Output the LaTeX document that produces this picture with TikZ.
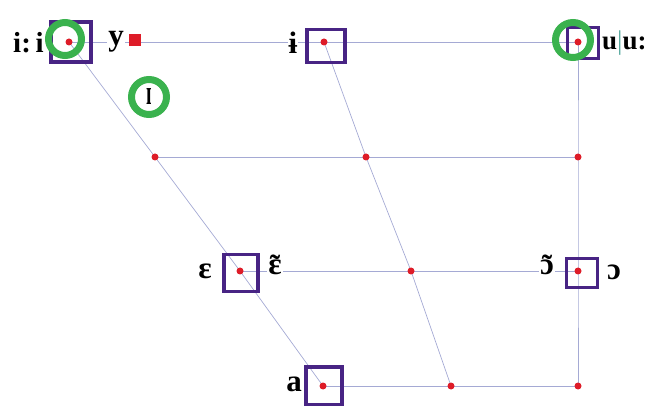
\documentclass[tikz,border=0pt]{standalone}
\usepackage{fontspec}
\setmainfont{Liberation Serif}
\definecolor{gridc}{RGB}{165,170,212}
\definecolor{dotred}{RGB}{222,28,40}
\definecolor{boxpurple}{RGB}{72,36,132}
\definecolor{ringgreen}{RGB}{58,178,78}
\definecolor{barc}{RGB}{90,170,160}
\newcommand\tildeon[1]{\ooalign{#1\cr\hidewidth\raisebox{-0.05em}{˜}\hidewidth\cr}}
\begin{document}
\begin{tikzpicture}[x=1pt,y=-1pt,
  grid/.style={draw=gridc, line width=0.7pt},
  dot/.style={circle, fill=dotred, inner sep=0pt, minimum size=7pt},
  vbox/.style={draw=boxpurple, line width=3.5pt, inner sep=0pt},
  ring/.style={circle, draw=ringgreen, line width=7pt, inner sep=0pt, minimum size=35pt},
  lab/.style={font=\fontsize{31}{33}\selectfont\bfseries, fill=white, inner sep=1pt}]
\useasboundingbox (0,0) rectangle (651,406);
% points
\coordinate (p11) at (69,42);
\coordinate (p12) at (324,42);
\coordinate (p13) at (578,42);
\coordinate (p21) at (155,157);
\coordinate (p22) at (366,157);
\coordinate (p23) at (578,157);
\coordinate (p31) at (240,271);
\coordinate (p32) at (411,271);
\coordinate (p33) at (578,271);
\coordinate (p41) at (323,386);
\coordinate (p42) at (451,386);
\coordinate (p43) at (578,386);
% grid lines
\draw[grid] (p11) -- (p13);
\draw[grid] (p21) -- (p23);
\draw[grid] (p31) -- (p33);
\draw[grid] (p41) -- (p43);
\draw[grid] (p11) -- (p21) -- (p31) -- (p41);
\draw[grid] (p12) -- (p22) -- (p32) -- (p42);
\draw[grid] (p13) -- (p23) -- (p33) -- (p43);
% labels
\node[lab, anchor=east, inner sep=0pt, font=\fontsize{29}{31}\selectfont\bfseries] (li) at (44,43) {i:\,i};
\node[lab] (ly) at (116,42) {y};
\node[lab] (lbi) at (293,43) {ɨ};
\node[lab, anchor=west, inner sep=0pt, font=\fontsize{27}{29}\selectfont\bfseries] (lu) at (602,43) {u\textcolor{barc}{\fontseries{m}\selectfont|}u:};
\node[lab] (le) at (205,271) {ɛ};
\node[lab] (let) at (275,268) {\tildeon{ɛ}};
\node[lab] (lot) at (547,268) {\tildeon{ɔ}};
\node[lab] (lo) at (614,272) {ɔ};
\node[lab] (la) at (294,384) {a};
% boxes
\node[vbox, minimum width=40pt, minimum height=40pt] (b1) at (71,42) {};
\node[vbox, minimum width=38pt, minimum height=33pt] (b2) at (326,46) {};
\node[vbox, minimum width=31pt, minimum height=31pt] (b3) at (583,43) {};
\node[vbox, minimum width=34pt, minimum height=37pt] (b4) at (241,273) {};
\node[vbox, minimum width=31pt, minimum height=29pt] (b5) at (582,273) {};
\node[vbox, minimum width=36pt, minimum height=38pt] (b6) at (324,386) {};
% rings
\node[ring, minimum size=33pt] (g1) at (65,39) {};
\node[ring] (g2) at (149,97) {\fontsize{24}{26}\selectfont\bfseries\scalebox{0.8}[1.45]{ɪ}};
\node[ring] (g3) at (573,40) {};
% dots
\foreach \p in {p11,p12,p13,p21,p22,p23,p31,p32,p33,p41,p42,p43}
  \node[dot] (d\p) at (\p) {};
\node[fill=dotred, inner sep=0pt, minimum size=12pt] (ysq) at (135,40) {};
\end{tikzpicture}
\end{document}
